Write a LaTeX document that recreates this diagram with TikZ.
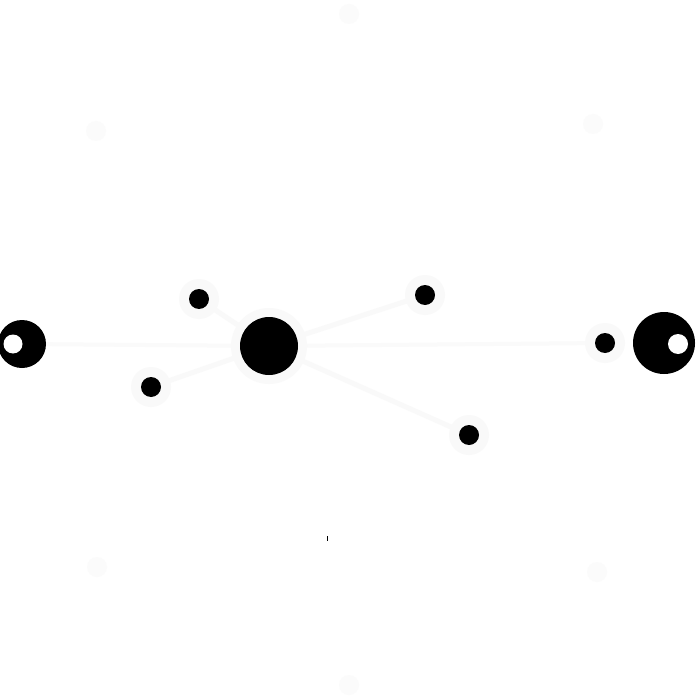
\documentclass[tikz,border=0pt]{standalone}
\begin{document}
\begin{tikzpicture}[x=1pt,y=-1pt,
  halo/.style={circle,fill=black!2.5,inner sep=0pt,minimum size=#1},
  dot/.style={circle,fill=black,inner sep=0pt,minimum size=#1},
  hole/.style={circle,fill=white,inner sep=0pt,minimum size=#1},
  ghost/.style={circle,fill=black!1.5,inner sep=0pt,minimum size=20pt},
  link/.style={draw=black!2.5,line width=5pt},
  hlink/.style={draw=black!2,line width=4pt}]
\useasboundingbox[fill=white] (0,0) rectangle (699,700);
% faint background circles
\node[ghost] (g1) at (349,14) {};
\node[ghost] (g2) at (96,131) {};
\node[ghost] (g3) at (593,124) {};
\node[ghost] (g4) at (97,567) {};
\node[ghost] (g5) at (597,572) {};
\node[ghost] (g6) at (349,685) {};
% coordinates
\coordinate (c) at (269,346);
\coordinate (a) at (199,299);
\coordinate (b) at (151,387);
\coordinate (d) at (425,295);
\coordinate (e) at (469,435);
\coordinate (f) at (605,343);
\coordinate (l) at (22,344);
\coordinate (r) at (664,343);
% links
\draw[hlink] (l) -- (c);
\draw[hlink] (c) -- (f);
\draw[link] (c) -- (a);
\draw[link] (c) -- (b);
\draw[link] (c) -- (d);
\draw[link] (c) -- (e);
% halos
\node[halo=76pt] (ch) at (c) {};
\node[halo=40pt] (ah) at (a) {};
\node[halo=40pt] (bh) at (b) {};
\node[halo=40pt] (dh) at (d) {};
\node[halo=40pt] (eh) at (e) {};
\node[halo=40pt] (fh) at (f) {};
% dots
\node[dot=58pt] (cn) at (c) {};
\node[dot=20pt] (an) at (a) {};
\node[dot=20pt] (bn) at (b) {};
\node[dot=20pt] (dn) at (d) {};
\node[dot=20pt] (en) at (e) {};
\node[dot=20pt] (fn) at (f) {};
\node[dot=48pt] (ln) at (l) {};
\node[hole=19pt] (lh) at (13,344) {};
\node[dot=62pt] (rn) at (r) {};
\node[hole=20pt] (rh) at (678,344) {};
% tick
\draw[line width=1pt] (327,536) -- (327,541);
\end{tikzpicture}
\end{document}
